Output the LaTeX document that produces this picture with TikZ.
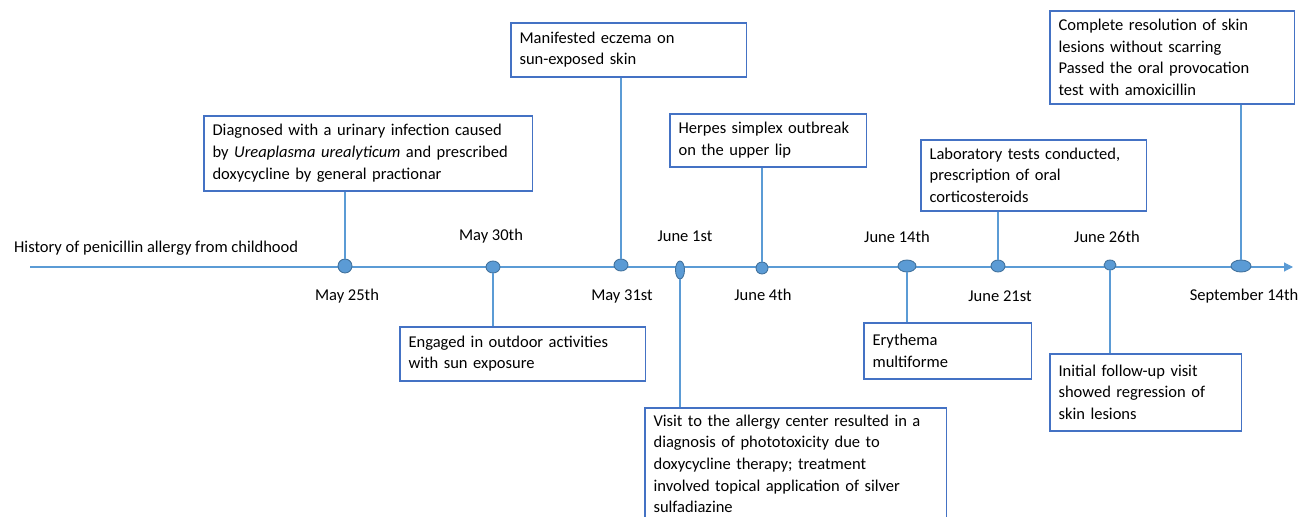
\documentclass[tikz,border=0pt]{standalone}
\usepackage{fontspec}
\setmainfont{Carlito}
\usetikzlibrary{arrows.meta,shapes.geometric}
\definecolor{tlblue}{HTML}{5B9BD5}
\definecolor{boxblue}{HTML}{4472C4}
\definecolor{dotedge}{HTML}{41719C}
\tikzset{
  event/.style={draw=boxblue, line width=0.9pt, anchor=north west, align=left,
    inner xsep=5pt, inner ysep=2pt, font=\fontsize{9.4}{12.3}\selectfont},
  dot/.style={ellipse, draw=dotedge, fill=tlblue, line width=0.5pt, inner sep=0pt},
  link/.style={draw=tlblue, line width=0.8pt},
  date/.style={font=\fontsize{9.4}{12.3}\selectfont}
}

\begin{document}
\begin{tikzpicture}[x=0.02cm, y=-0.02cm]
  \useasboundingbox (0,0) rectangle (1306,517);
  % timeline
  \coordinate (start) at (30,267);
  \coordinate (end) at (1293,267);
  \draw[tlblue, line width=0.6pt, -{Triangle[length=5pt,width=5pt]}] (start) -- (end);
  \node[date, anchor=west] (hist) at (8,248) {History of penicillin allergy from childhood};

  % dates on the line
  \node[dot, minimum width=0.28cm, minimum height=0.28cm] (m25) at (345,266) {};
  \node[dot, minimum width=0.28cm, minimum height=0.24cm] (m30) at (493,267) {};
  \node[dot, minimum width=0.28cm, minimum height=0.24cm] (m31) at (621,265) {};
  \node[dot, minimum width=0.18cm, minimum height=0.36cm] (j1) at (680,270) {};
  \node[dot, minimum width=0.24cm, minimum height=0.24cm] (j4) at (762,268) {};
  \node[dot, minimum width=0.36cm, minimum height=0.24cm] (j14) at (907,266) {};
  \node[dot, minimum width=0.28cm, minimum height=0.24cm] (j21) at (998,266) {};
  \node[dot, minimum width=0.24cm, minimum height=0.2cm] (j26) at (1110,265) {};
  \node[dot, minimum width=0.4cm, minimum height=0.24cm] (s14) at (1241,266) {};

  \node[date] (l25) at (347,296) {May 25th};
  \node[date] (l30) at (491,236) {May 30th};
  \node[date] (l31) at (622,296) {May 31st};
  \node[date] (l1) at (685,236) {June 1st};
  \node[date] (l4) at (763,295) {June 4th};
  \node[date] (l14) at (897,237) {June 14th};
  \node[date] (l21) at (1000,296) {June 21st};
  \node[date] (l26) at (1107,237) {June 26th};
  \node[date] (ls14) at (1244,296) {September 14th};

  % boxes above
  \node[event, text width=6.22cm, minimum height=1.5cm] (e1) at (203,115)
    {Diagnosed with a urinary infection caused\\by \textit{Ureaplasma urealyticum} and prescribed\\doxycycline by general practionar};
  \node[event, text width=4.36cm, minimum height=1.08cm] (e2) at (510,22)
    {Manifested eczema on\\sun-exposed skin};
  \node[event, text width=3.58cm, minimum height=1.06cm] (e3) at (669,113)
    {Herpes simplex outbreak\\on the upper lip};
  \node[event, text width=4.16cm, minimum height=1.42cm] (e4) at (920,139)
    {Laboratory tests conducted,\\prescription of oral\\corticosteroids};
  \node[event, text width=4.54cm, minimum height=1.86cm] (e5) at (1049,10)
    {Complete resolution of skin\\lesions without scarring\\Passed the oral provocation\\test with amoxicillin};

  % boxes below
  \node[event, text width=4.56cm, minimum height=1.08cm] (e6) at (399,326)
    {Engaged in outdoor activities\\with sun exposure};
  \node[event, text width=5.68cm, inner ysep=4pt] (e7) at (644,407)
    {Visit to the allergy center resulted in a\\diagnosis of phototoxicity due to\\doxycycline therapy; treatment\\involved topical application of silver\\sulfadiazine};
  \node[event, text width=3.0cm, minimum height=1.12cm] (e8) at (863,322)
    {Erythema\\multiforme};
  \node[event, text width=3.48cm, minimum height=1.54cm] (e9) at (1049,353)
    {Initial follow-up visit\\showed regression of\\skin lesions};

  % connectors
  \draw[link] (m25 |- e1.south) -- (m25);
  \draw[link] (m31 |- e2.south) -- (m31);
  \draw[link] (j4 |- e3.south) -- (j4);
  \draw[link] (j21 |- e4.south) -- (j21);
  \draw[link] (s14 |- e5.south) -- (s14);
  \draw[link] (m30) -- (m30 |- e6.north);
  \draw[link] (j1) -- (j1 |- e7.north);
  \draw[link] (j14) -- (j14 |- e8.north);
  \draw[link] (j26) -- (j26 |- e9.north);
\end{tikzpicture}
\end{document}
